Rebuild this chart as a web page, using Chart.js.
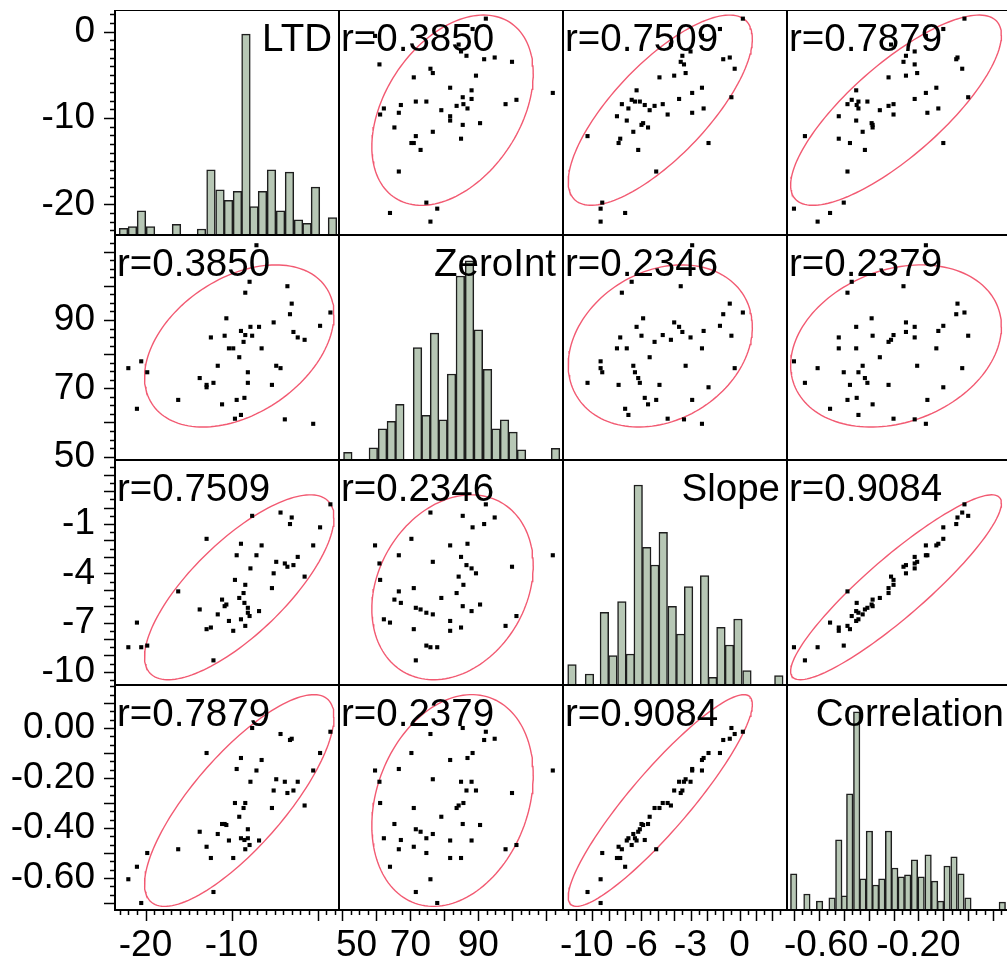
<!DOCTYPE html>
<html>
<head>
<meta charset="utf-8">
<script src="https://cdn.jsdelivr.net/npm/chart.js@4.4.0/dist/chart.umd.min.js"></script>
<style>
  html, body { margin: 0; padding: 0; background: #fff; overflow: hidden; }
  #wrap { position: relative; width: 1007px; height: 967px; }
  canvas { position: absolute; }
</style>
</head>
<body>
<div id="wrap"></div>
<script>
// ---- data ----
const varNames = ["LTD", "ZeroInt", "Slope", "Correlation"];

const ltd = [1.5, 0.3, -0.5, -1.5, -2.3, -2.8, -3.0, -3.2, -3.5, -3.8, -4.3, -4.8, -5.1, -5.3, -6.5, -6.8,
  -7.1, -7.6, -7.8, -7.9, -8.1, -8.1, -8.4, -8.4, -8.5, -8.6, -8.9, -8.9, -9.1, -9.4, -9.6, -9.8,
  -10.3, -10.6, -10.8, -11.1, -11.6, -12.1, -12.4, -12.9, -12.9, -13.7, -16.2, -19.8, -20.5, -21.0, -22.0];
const zeroInt = [92.2, 88.3, 59.6, 84.2, 84.9, 86.5, 94.8, 91.7, 99.9, 60.9, 75.9, 76.6, 89.3, 71.0, 81.7, 88.0,
  111.9, 85.4, 88.0, 101.2, 71.6, 74.7, 85.6, 98.0, 67.2, 83.6, 86.8, 62.2, 79.1, 66.6, 61.1, 81.7,
  81.7, 90.5, 85.4, 65.3, 76.6, 71.6, 84.9, 70.3, 71.0, 73.0, 66.6, 74.7, 77.9, 64.0, 75.9];
const slope = [0.2, -1.2, -2.3, -4.2, -3.0, -3.5, -0.6, -1.0, -3.6, -3.4, -0.3, -3.3, -4.0, -4.9, -2.3, -6.3,
  -2.9, -0.5, -3.7, -6.6, -6.1, -6.4, -4.7, -7.2, -5.8, -5.2, -2.2, -6.8, -5.5, -2.9, -4.4, -7.5,
  -6.9, -5.9, -6.0, -5.6, -6.5, -9.3, -7.3, -1.9, -7.4, -6.2, -5.1, -8.4, -8.5, -7.0, -8.5];
const correlation = [-0.015, -0.10, -0.17, -0.31, -0.215, -0.25, -0.043, -0.048, -0.26, -0.215, -0.024, -0.205, -0.25, -0.32, -0.128, -0.45,
  -0.17, 0.00, -0.215, -0.468, -0.405, -0.441, -0.30, -0.485, -0.448, -0.32, -0.12, -0.441, -0.355, -0.164, -0.30, -0.52,
  -0.45, -0.388, -0.384, -0.384, -0.424, -0.656, -0.52, -0.10, -0.475, -0.415, -0.485, -0.50, -0.70, -0.555, -0.605];

// pairwise r as printed in the matrix
const rValues = [
  [1, 0.3850, 0.7509, 0.7879],
  [0.3850, 1, 0.2346, 0.2379],
  [0.7509, 0.2346, 1, 0.9084],
  [0.7879, 0.2379, 0.9084, 1]
];

// 95% density ellipse parameters (centre and spread read from the ellipses)
const ellipseCenter = [-9.1, 82.4, -4.85, -0.29];
const ellipseSd = [4.5, 9.7, 2.3, 0.173];

// histograms: bin centres and bar heights (% of the tallest bar)
const ltdBins = [-22.56, -21.52, -20.47, -19.42, -16.4, -13.49, -12.39, -11.34, -10.35, -9.31, -8.32, -7.39, -6.4, -5.35, -4.3, -3.26, -2.21, -1.22, -0.24, 1.74];
const ltdFreq = [3.3, 4.2, 12, 4.2, 5.3, 3, 32.5, 22.5, 17.2, 21.7, 100, 14.2, 21.7, 32.5, 12, 31.3, 7.5, 5.8, 23.8, 8.7];
const zeroIntBins = [51.6, 59.1, 61.8, 64.4, 66.9, 72.1, 74.6, 77.1, 79.6, 82.1, 84.7, 87.4, 90.0, 92.7, 95.2, 97.7, 100.2, 102.7, 112.7];
const zeroIntFreq = [3.9, 6.1, 15.7, 19.4, 28, 56.5, 22.4, 63.7, 20.2, 43.2, 92.4, 100, 65.4, 45.5, 15.7, 20.2, 14, 5.1, 5.9];
const slopeBins = [-10.25, -9.18, -8.27, -7.75, -7.20, -6.68, -6.20, -5.68, -5.19, -4.67, -4.12, -3.60, -3.12, -2.14, -1.65, -1.14, -0.62, -0.10, 0.45, 2.40];
const slopeFreq = [10.2, 5.5, 36.3, 14.7, 41.7, 15.5, 100, 68.8, 60, 76.3, 39.3, 25.5, 49.2, 54.7, 3.8, 28.8, 20, 33, 7.2, 4.7];
const corrBins = [-0.701, -0.648, -0.597, -0.547, -0.520, -0.497, -0.476, -0.448, -0.423, -0.397, -0.372, -0.347, -0.320,
  -0.295, -0.269, -0.243, -0.216, -0.189, -0.161, -0.135, -0.111, -0.085, -0.057, -0.029, -0.001, 0.137];
const corrFreq = [18.2, 8.1, 4.5, 6.1, 35.4, 7.1, 58.6, 100, 15.7, 39.9, 12.6, 15.7, 39.9, 21.2, 16.7, 17.7, 25.3, 16.7,
  27.8, 14.6, 4.5, 22.2, 26.8, 18.2, 6.1, 4.0];

// axis ranges and tick labels
const axisMin = [-23.55, 49.0, -10.8, -0.728];
const axisMax = [2.5, 114.9, 2.9, 0.172];
const xTickLabels = [[-20, -10], [50, 70, 90], [-10, -6, -3, 0], [-0.6, -0.2]];
const yTickLabels = [[0, -10, -20], [90, 70, 50], [-1, -4, -7, -10], [0, -0.2, -0.4, -0.6]];
const minorStep = [1, 2.5, 0.5, 1 / 30];
const majorStep = [10, 10, 1, 0.1];
const labelDigits = [0, 0, 0, 2];

const columns = [ltd, zeroInt, slope, correlation];
const hists = [[ltdBins, ltdFreq], [zeroIntBins, zeroIntFreq], [slopeBins, slopeFreq], [corrBins, corrFreq]];
const histMax = [112, 113, 112.5, 113.6];
const barWidth = [8.6, 8.6, 8.6, 6.5];

// ---- layout ----
const CELL_X = [115, 339, 563, 787];
const CELL_Y = [10, 235, 460, 685];
const CELL_W = 224, CELL_H = 225;
const AXIS_W = 115, AXIS_H = 57;
const ROOM_LEFT = 40;   // bottom row: room for x labels left of the cell
const ROOM_BELOW = 25;  // first column: room for y labels below the cell
const FONT = '"Liberation Sans", Arial, sans-serif';
const TICK_FONT = "37px " + FONT;

// 95% bivariate normal density ellipse
function ellipse(i, j, r) {
  const mx = ellipseCenter[i], my = ellipseCenter[j], sx = ellipseSd[i], sy = ellipseSd[j];
  const c = Math.sqrt(5.991);
  const pts = [];
  for (let k = 0; k <= 144; k++) {
    const t = k / 144 * 2 * Math.PI;
    const u = c * Math.cos(t), v = c * Math.sin(t);
    pts.push({ x: mx + sx * u, y: my + sy * (r * u + Math.sqrt(1 - r * r) * v) });
  }
  return pts;
}

function fmt(v, d) {
  if (Math.abs(v) < 1e-9) v = 0;
  return v.toFixed(d);
}

function axisOpts(k, isX, show) {
  const labels = isX ? xTickLabels[k] : yTickLabels[k];
  return {
    type: "linear",
    position: isX ? "bottom" : "left",
    display: show,
    offset: false,
    min: axisMin[k],
    max: axisMax[k],
    grid: { display: false, drawTicks: false, offset: false },
    border: { display: false },
    afterBuildTicks: (scale) => { scale.ticks = labels.map((v) => ({ value: v })); },
    afterFit: (scale) => {
      if (!show) { scale.width = 0; scale.height = 0; }
      else if (isX) scale.height = AXIS_H;
      else scale.width = AXIS_W;
      scale.paddingTop = 0; scale.paddingBottom = 0;
      scale.paddingLeft = 0; scale.paddingRight = 0;
    },
    ticks: {
      display: !isX, // x labels are placed by the plugin (first one kept inside the cell)
      autoSkip: false,
      maxRotation: 0,
      padding: 20,
      color: "#000",
      font: { family: FONT, size: 37 },
      callback: (v) => fmt(v, labelDigits[k])
    }
  };
}

function tickPlugin(r, c) {
  return {
    id: "cellDecor" + r + c,
    afterDatasetsDraw(chart) {
      const ctx = chart.ctx, ca = chart.chartArea;
      ctx.save();
      // frame
      ctx.strokeStyle = "#000";
      ctx.lineWidth = 2;
      ctx.strokeRect(ca.left, ca.top, ca.right - ca.left, ca.bottom - ca.top);
      // text
      ctx.fillStyle = "#000";
      ctx.font = "38.5px " + FONT;
      ctx.textBaseline = "alphabetic";
      if (r === c) {
        ctx.textAlign = "right";
        ctx.fillText(varNames[r], ca.right - 7, ca.top + 41);
      } else {
        ctx.textAlign = "left";
        ctx.fillText("r=" + rValues[r][c].toFixed(4), ca.left + 2, ca.top + 41);
      }
      // tick marks
      ctx.lineWidth = 1.5;
      const drawTicks = (scale, k, isX) => {
        const st = minorStep[k];
        const start = Math.ceil(axisMin[k] / st - 1e-6);
        const end = Math.floor(axisMax[k] / st + 1e-6);
        for (let i = start; i <= end; i++) {
          const v = i * st;
          const q = v / majorStep[k];
          const major = Math.abs(q - Math.round(q)) < 1e-6;
          const len = major ? 11 : 5;
          const p = Math.round(scale.getPixelForValue(v)) + 0.5;
          ctx.beginPath();
          if (isX) { ctx.moveTo(p, ca.bottom); ctx.lineTo(p, ca.bottom + len); }
          else { ctx.moveTo(ca.left - len, p); ctx.lineTo(ca.left, p); }
          ctx.stroke();
        }
      };
      if (r === 3) {
        const sx = chart.scales.x;
        drawTicks(sx, c, true);
        ctx.font = TICK_FONT;
        ctx.textAlign = "left";
        ctx.textBaseline = "middle";
        xTickLabels[c].forEach((v) => {
          const txt = fmt(v, labelDigits[c]);
          const tw = ctx.measureText(txt).width;
          const left = Math.max(sx.getPixelForValue(v) - tw / 2, ca.left - 3);
          ctx.fillText(txt, left, ca.bottom + 14 + 22.2);
        });
      }
      if (c === 0) drawTicks(chart.scales.y, r, false);
      ctx.restore();
    }
  };
}

const wrap = document.getElementById("wrap");

for (let r = 0; r < 4; r++) {
  for (let c = 0; c < 4; c++) {
    const padLeft = (r === 3 && c > 0) ? ROOM_LEFT : 0;
    const padBottom = (c === 0 && r < 3) ? ROOM_BELOW : 0;
    const w = CELL_W + (c === 0 ? AXIS_W : 0) + padLeft;
    const h = CELL_H + (r === 3 ? AXIS_H : 0) + padBottom;
    const cv = document.createElement("canvas");
    cv.width = w; cv.height = h;
    cv.style.width = w + "px"; cv.style.height = h + "px";
    cv.style.left = (c === 0 ? 0 : CELL_X[c] - padLeft) + "px";
    cv.style.top = CELL_Y[r] + "px";
    wrap.appendChild(cv);

    const scales = {
      x: axisOpts(c, true, r === 3),
      y: axisOpts(r, false, c === 0)
    };
    let cfg;
    if (r === c) {
      scales.yc = { type: "linear", display: false, min: 0, max: histMax[r] };
      const [bins, freq] = hists[r];
      cfg = {
        type: "bar",
        data: {
          datasets: [{
            data: bins.map((b, i) => ({ x: b, y: freq[i] })),
            xAxisID: "x",
            yAxisID: "yc",
            backgroundColor: "#b7c7b5",
            borderColor: "#1e1e1e",
            borderWidth: 1.5,
            barThickness: barWidth[r],
            grouped: false
          }]
        }
      };
    } else {
      const xs = columns[c], ys = columns[r];
      cfg = {
        type: "scatter",
        data: {
          datasets: [
            {
              data: xs.map((v, i) => ({ x: v, y: ys[i] })),
              pointStyle: "rect",
              pointRadius: 2.9,
              borderWidth: 0,
              backgroundColor: "#000",
              order: 0
            },
            {
              data: ellipse(c, r, rValues[r][c]),
              showLine: true,
              pointRadius: 0,
              borderColor: "#f25a72",
              borderWidth: 1.4,
              fill: false,
              tension: 0,
              order: 1
            }
          ]
        }
      };
    }
    cfg.options = {
      responsive: false,
      animation: false,
      events: [],
      layout: { padding: { left: padLeft, right: 0, top: 0, bottom: padBottom }, autoPadding: false },
      plugins: { legend: { display: false }, tooltip: { enabled: false } },
      scales: scales
    };
    cfg.plugins = [tickPlugin(r, c)];
    new Chart(cv.getContext("2d"), cfg);
  }
}
</script>
</body>
</html>
